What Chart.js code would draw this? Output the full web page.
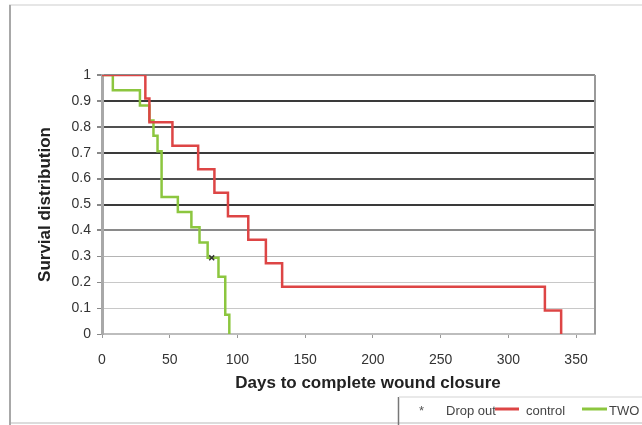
<!DOCTYPE html>
<html>
<head>
<meta charset="utf-8">
<script src="https://cdn.jsdelivr.net/npm/chart.js@4/dist/chart.umd.min.js"></script>
<style>
  html, body { margin: 0; padding: 0; background: #fff; }
  #wrap { width: 642px; height: 425px; }
</style>
</head>
<body>
<div id="wrap"><canvas id="survival" width="642" height="425"></canvas></div>
<script>
// data
const controlDays = [0, 32, 35, 52, 71, 83, 93, 108, 121, 133, 327, 339];
const controlSurv = [1, 0.909, 0.818, 0.727, 0.636, 0.545, 0.455, 0.364, 0.273, 0.182, 0.091, 0];
const twoDays = [0, 8, 28, 35, 38, 41, 44, 56, 66, 72, 78, 86, 91, 94];
const twoSurv = [1, 0.941, 0.882, 0.824, 0.765, 0.706, 0.529, 0.471, 0.412, 0.353, 0.294, 0.221, 0.074, 0];
const dropDays = [81];
const dropSurv = [0.294];
const xTicks = [0, 50, 100, 150, 200, 250, 300, 350];
const xTitle = 'Days to complete wound closure';

const FONT = '"Liberation Sans", Arial, sans-serif';
const toPoints = (xs, ys) => xs.map((x, i) => ({ x: x, y: ys[i] }));

// gridline colours per level (the scan has darker lines at the top)
function gridColor(v) {
  const r = Math.round(v * 10);
  if (r === 10) return '#8a8a8a';
  if (r === 9 || r === 7 || r === 5) return '#3a3a3a';
  if (r === 8 || r === 6) return '#505050';
  if (r === 4) return '#8a8a8a';
  if (r === 3) return '#b4b4b4';
  if (r === 0) return 'rgba(0,0,0,0)';
  return '#c8c8c8';
}
function gridWidth(v) {
  const r = Math.round(v * 10);
  return r >= 4 ? 2 : 1;
}

const frame = {
  id: 'frame',
  beforeDraw(chart) {
    const c = chart.ctx;
    c.save();
    c.strokeStyle = '#e6e6e6';
    c.lineWidth = 2;
    c.beginPath(); c.moveTo(9, 5); c.lineTo(642, 5); c.stroke();
    c.strokeStyle = '#dcdcdc';
    c.beginPath(); c.moveTo(9, 423); c.lineTo(642, 423); c.stroke();
    c.strokeStyle = '#a8a8a8';
    c.lineWidth = 2;
    c.beginPath(); c.moveTo(10, 5); c.lineTo(10, 425); c.stroke();
    c.restore();
  },
  afterDraw(chart) {
    const c = chart.ctx;
    const a = chart.chartArea;
    c.save();
    // right edge of the plot area
    c.strokeStyle = '#9a9a9a';
    c.lineWidth = 2;
    c.beginPath(); c.moveTo(a.right, a.top); c.lineTo(a.right, a.bottom); c.stroke();

    // x axis title sits a bit right of the plot centre in the original
    c.font = 'bold 17px ' + FONT;
    c.fillStyle = '#222';
    c.textAlign = 'center';
    c.textBaseline = 'middle';
    c.fillText(xTitle, 368, 383);

    // legend box, cut off at the right
    c.strokeStyle = '#777';
    c.lineWidth = 1.5;
    c.beginPath(); c.moveTo(398.5, 397); c.lineTo(398.5, 425); c.stroke();
    c.strokeStyle = '#e2e2e2';
    c.beginPath(); c.moveTo(399, 397); c.lineTo(642, 397); c.stroke();

    const ds = chart.data.datasets;
    c.font = '13px ' + FONT;
    c.textAlign = 'left';
    c.fillStyle = '#555';
    c.fillText('*', 419, 411);
    c.fillStyle = '#444';
    c.fillText(ds[0].label, 446, 411);
    c.lineWidth = 3;
    c.strokeStyle = ds[1].borderColor;
    c.beginPath(); c.moveTo(495, 409); c.lineTo(519, 409); c.stroke();
    c.fillText(ds[1].label, 526, 411);
    c.strokeStyle = ds[2].borderColor;
    c.beginPath(); c.moveTo(582, 409); c.lineTo(607, 409); c.stroke();
    c.fillText(ds[2].label, 609, 411);
    c.restore();
  }
};

new Chart(document.getElementById('survival'), {
  type: 'line',
  data: {
    datasets: [
      {
        type: 'scatter',
        label: 'Drop out',
        data: toPoints(dropDays, dropSurv),
        pointStyle: 'crossRot',
        pointRadius: 3.5,
        borderColor: '#333',
        borderWidth: 1.5
      },
      {
        label: 'control',
        data: toPoints(controlDays, controlSurv),
        stepped: true,
        borderColor: '#dd4545',
        borderWidth: 2.5,
        pointRadius: 0,
        fill: false
      },
      {
        label: 'TWO',
        data: toPoints(twoDays, twoSurv),
        stepped: true,
        borderColor: '#8cc63f',
        borderWidth: 2.5,
        pointRadius: 0,
        fill: false
      }
    ]
  },
  options: {
    responsive: false,
    animation: false,
    layout: { padding: { left: 0, top: 75, right: 47, bottom: 0 } },
    scales: {
      x: {
        type: 'linear',
        min: 0,
        max: 364,
        afterBuildTicks: axis => { axis.ticks = xTicks.map(v => ({ value: v })); },
        afterFit: scale => { scale.height = 91; },
        border: { color: '#bdbdbd', width: 2 },
        grid: { drawOnChartArea: false, drawTicks: true, tickLength: 4, color: '#999' },
        ticks: {
          autoSkip: false,
          maxRotation: 0,
          padding: 14,
          color: '#333',
          font: { size: 14, family: FONT }
        },
        title: { display: false }
      },
      y: {
        min: 0,
        max: 1,
        afterFit: scale => { scale.width = 102; },
        border: { color: '#a8a8a8', width: 3 },
        grid: {
          color: ctx => gridColor(ctx.tick.value),
          lineWidth: ctx => gridWidth(ctx.tick.value),
          tickColor: '#888',
          tickLength: 5
        },
        ticks: {
          stepSize: 0.1,
          autoSkip: false,
          padding: 6,
          color: '#333',
          font: { size: 14, family: FONT },
          callback: v => String(Math.round(v * 10) / 10)
        },
        title: {
          display: true,
          text: 'Survial distribution',
          color: '#222',
          padding: { top: 35, bottom: 0 },
          font: { size: 17, weight: 'bold', family: FONT }
        }
      }
    },
    plugins: {
      legend: { display: false },
      tooltip: { enabled: false }
    }
  },
  plugins: [frame]
});
</script>
</body>
</html>
